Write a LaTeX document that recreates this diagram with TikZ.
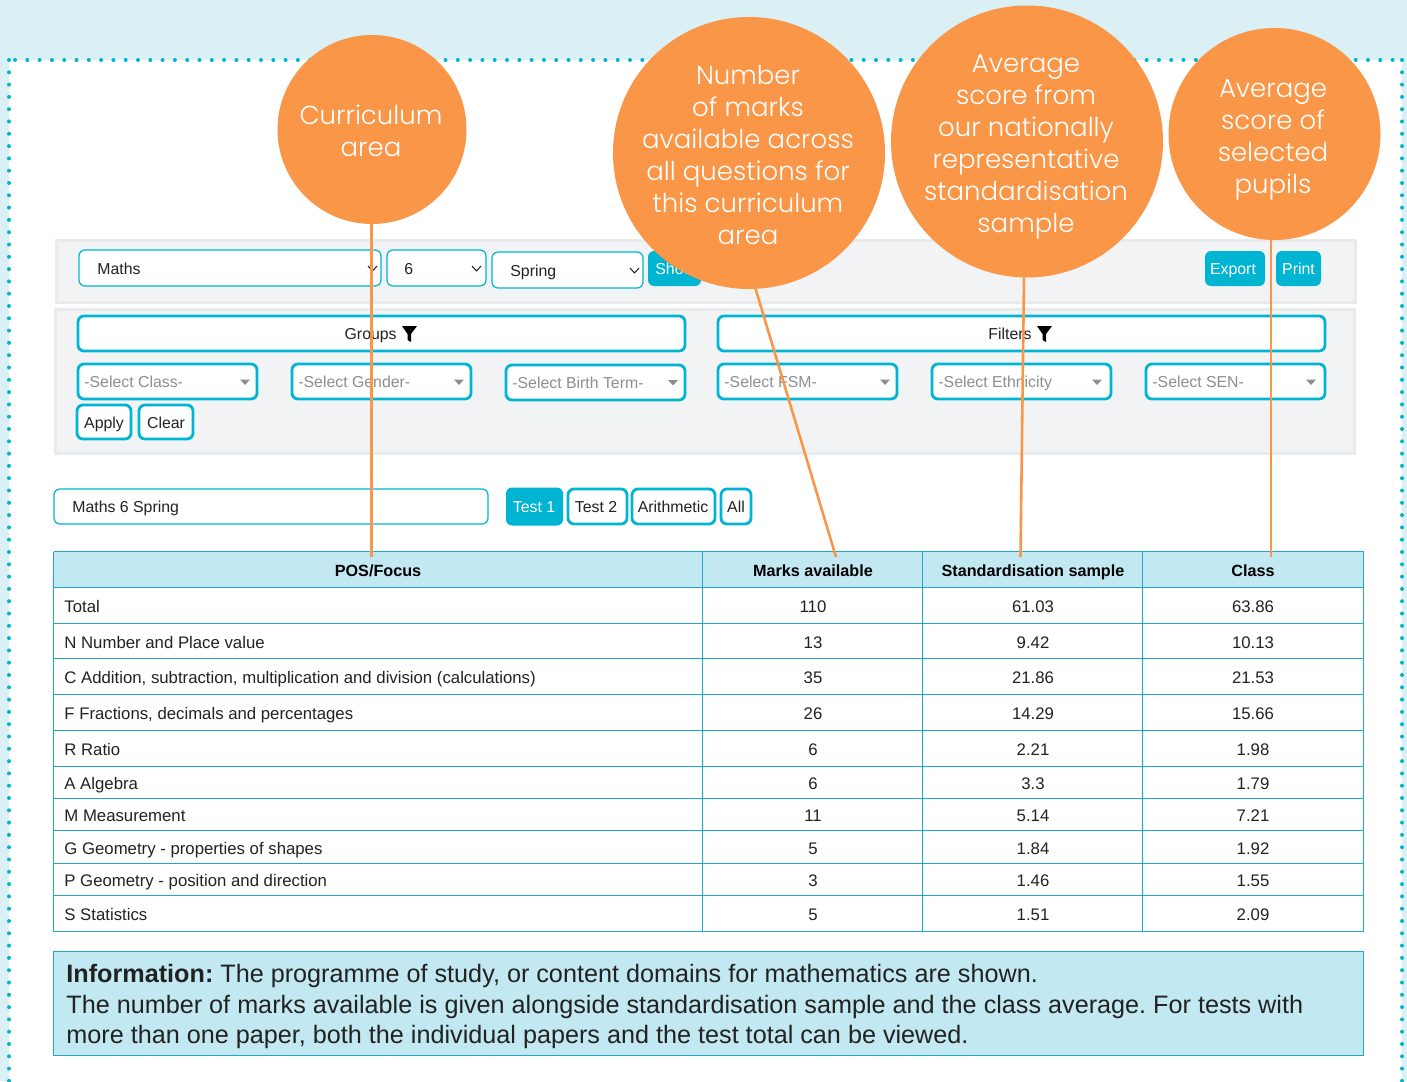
\documentclass[tikz,border=0pt]{standalone}
\usepackage{fontspec}
\setmainfont{Liberation Sans}
\newfontfamily\circfont{Poppins Light}
\frenchspacing
\definecolor{bandblue}{HTML}{DAF0F5}
\definecolor{teal}{HTML}{00B5D1}
\definecolor{orng}{HTML}{F99648}
\definecolor{panelfill}{HTML}{F1F3F5}
\definecolor{panelline}{HTML}{E8EAEC}
\definecolor{headblue}{HTML}{C2E8F2}
\definecolor{rulecol}{HTML}{1BA9C6}
\definecolor{inktext}{HTML}{222222}
\definecolor{greytext}{HTML}{8E8E8E}
\tikzset{
 x=0.5pt,y=-0.5pt,
 panel/.style={draw=panelline,fill=panelfill,line width=1.5pt},
 thinbox/.style={draw=teal,fill=white,line width=0.6pt,rounded corners=3pt},
 thickbox/.style={draw=teal,fill=white,line width=1.4pt,rounded corners=3pt},
 solidbtn/.style={fill=teal,rounded corners=3pt},
 lab/.style={font=\fontsize{7.92}{9.7}\selectfont,text=inktext,inner sep=0pt,anchor=mid},
 greylab/.style={font=\fontsize{7.92}{9.7}\selectfont,text=greytext,inner sep=0pt,anchor=mid west},
 btnlab/.style={font=\fontsize{7.92}{9.7}\selectfont,text=white,inner sep=0pt,anchor=mid},
 cell/.style={font=\fontsize{8.38}{9.8}\selectfont,text=inktext,inner sep=0pt},
 headcell/.style={font=\fontsize{8.1}{9.8}\selectfont\bfseries,text=black,inner sep=0pt,anchor=mid},
 bubble/.style={circle,fill=orng,inner sep=0pt},
 bubbletext/.style={text=white,inner sep=0pt,align=center,font=\circfont\fontsize{13}{16}\selectfont},
 leader/.style={draw=orng,line width=1.3pt},
 chev/.style={draw=inktext,line width=0.5pt},
 tri/.style={fill=greytext},
 funnel/.style={fill=black},
 dotrow/.style={draw=teal,line width=2pt,line cap=round,dash pattern=on 0pt off 6.15pt},
 tline/.style={draw=rulecol,line width=0.45pt},
}
\begin{document}
\begin{tikzpicture}
\useasboundingbox (0,0) rectangle (1407,1081);
\fill[bandblue] (0,0) rectangle (1407,1081);
\fill[white] (9,60) rectangle (1402,1081);
\draw[dotrow] (15,60) -- (1402,60);
\draw[dotrow] (9,60) -- (9,1081);
\draw[dotrow] (1402,60) -- (1402,1081);

% panels
\draw[panel] (56.5,240) rectangle (1355.5,302);
\draw[panel] (55.5,309) rectangle (1354.5,453);

% top selects
\draw[thinbox] (79,250) rectangle (381,286);
\draw[thinbox] (387,250) rectangle (486,286);
\draw[thinbox] (492,252) rectangle (643,288);
\node[lab,anchor=mid west] (tMaths) at (97,269) {Maths};
\node[lab,anchor=mid west] (tSix) at (404,269) {6};
\node[lab,anchor=mid west] (tSpring) at (510,271) {Spring};
\draw[chev] (368,266) -- (372.5,271) -- (377,266);
\draw[chev] (472,266) -- (476.5,271) -- (481,266);
\draw[chev] (630,268) -- (634.5,273) -- (639,268);
\fill[solidbtn] (648,251) rectangle (701,286);
\node[btnlab,anchor=mid west] (tShow) at (655,269) {Show};
\fill[solidbtn] (1205,251) rectangle (1265,286);
\node[btnlab] (tExport) at (1233,269) {Export};
\fill[solidbtn] (1276,251) rectangle (1321,286);
\node[btnlab] (tPrint) at (1298.5,269) {Print};

% groups / filters
\draw[thickbox] (78,316) rectangle (685,351);
\node[lab,anchor=mid east] (tGroups) at (397,334) {Groups};
\fill[funnel] (402,326) -- (417,326) -- (411,334) -- (411,342) -- (407.5,340) -- (407.5,334) -- cycle;
\draw[thickbox] (718,316) rectangle (1325,351);
\node[lab,anchor=mid east] (tFilters) at (1032,334) {Filters};
\fill[funnel] (1037,326) -- (1052,326) -- (1046,334) -- (1046,342) -- (1042.5,340) -- (1042.5,334) -- cycle;

\draw[thickbox] (78,364) rectangle (257,399);
\node[greylab] (gClass) at (84,382) {-Select Class-};
\fill[tri] (240,379.5) -- (250,379.5) -- (245,385) -- cycle;
\draw[thickbox] (292,364) rectangle (471,399);
\node[greylab] (gGender) at (298,382) {-Select Gender-};
\fill[tri] (454,379.5) -- (464,379.5) -- (459,385) -- cycle;
\draw[thickbox] (506,365) rectangle (685,400);
\node[greylab] (gBirth) at (512,383) {-Select Birth Term-};
\fill[tri] (668,380) -- (678,380) -- (673,385.5) -- cycle;
\draw[thickbox] (718,364) rectangle (897,399);
\node[greylab] (gFSM) at (724,382) {-Select FSM-};
\fill[tri] (880,379.5) -- (890,379.5) -- (885,385) -- cycle;
\draw[thickbox] (932,364) rectangle (1111,399);
\node[greylab] (gEth) at (938,382) {-Select Ethnicity};
\fill[tri] (1092,379.5) -- (1102,379.5) -- (1097,385) -- cycle;
\draw[thickbox] (1146,364) rectangle (1325,399);
\node[greylab] (gSEN) at (1152,382) {-Select SEN-};
\fill[tri] (1306,379.5) -- (1316,379.5) -- (1311,385) -- cycle;

\draw[thickbox] (77,405) rectangle (131,439);
\node[lab] (bApply) at (104,423) {Apply};
\draw[thickbox] (139,405) rectangle (193,439);
\node[lab] (bClear) at (166,423) {Clear};

% test row
\draw[thinbox] (54,489) rectangle (488,524);
\node[lab,anchor=mid west] (tName) at (72,507) {Maths 6 Spring};
\fill[solidbtn] (506,487.5) rectangle (563,525.5);
\node[btnlab] (tTestA) at (534,507) {Test 1};
\draw[thickbox] (568,489) rectangle (627,524);
\node[lab] (tTestB) at (596,507) {Test 2};
\draw[thickbox] (632,489) rectangle (715,524);
\node[lab] (tArith) at (673,507) {Arithmetic};
\draw[thickbox] (721,489) rectangle (751,524);
\node[lab] (tAll) at (736,507) {All};

% table
\fill[headblue] (53.5,551.5) rectangle (1363.5,587.5);
\foreach \ly in {551.5,587.5,623.5,658.5,694.5,730.5,766.5,798.5,830.5,863.5,895.5,931.5}
  \draw[tline] (53.5,\ly) -- (1363.5,\ly);
\foreach \lx in {53.5,702.5,922.5,1142.5,1363.5}
  \draw[tline] (\lx,551.5) -- (\lx,931.5);
\node[headcell] (hPos) at (378,571.5) {POS/Focus};
\node[headcell] (hMarks) at (813,571.5) {Marks available};
\node[headcell] (hStd) at (1033,571.5) {Standardisation sample};
\node[headcell] (hClass) at (1253,571.5) {Class};
\foreach \i/\ry/\ta/\tb/\tc/\td in {
 1/607.5/{Total}/110/61.03/63.86,
 2/643.5/{N Number and Place value}/13/9.42/10.13,
 3/678.5/{C Addition, subtraction, multiplication and division (calculations)}/35/21.86/21.53,
 4/714.5/{F Fractions, decimals and percentages}/26/14.29/15.66,
 5/750.5/{R Ratio}/6/2.21/1.98,
 6/784.5/{A Algebra}/6/3.3/1.79,
 7/816.5/{M Measurement}/11/5.14/7.21,
 8/849.5/{G Geometry - properties of shapes}/5/1.84/1.92,
 9/881.5/{P Geometry - position and direction}/3/1.46/1.55,
 10/915.5/{S Statistics}/5/1.51/2.09}{
  \node[cell,anchor=mid west] (ra\i) at (64,\ry) {\ta};
  \node[cell,anchor=mid] (rb\i) at (813,\ry) {\tb};
  \node[cell,anchor=mid] (rc\i) at (1033,\ry) {\tc};
  \node[cell,anchor=mid] (rd\i) at (1253,\ry) {\td};
}

% information
\draw[draw=rulecol,fill=headblue,line width=0.45pt] (53.5,951.5) rectangle (1363.5,1055);
\node[anchor=north west,inner sep=0pt,align=left,text=inktext,font=\fontsize{12.6}{15.2}\selectfont] (info) at (66,964)
 {\textbf{Information:} The programme of study, or content domains for mathematics are shown.\\
  The number of marks available is given alongside standardisation sample and the class average. For tests with\\
  more than one paper, both the individual papers and the test total can be viewed.};

% bubbles
\node[bubble,minimum size=94.5pt] (cA) at (372,129.5) {};
\node[bubble,minimum size=136pt] (cB) at (749,153) {};
\node[bubble,minimum size=136pt] (cC) at (1027,141.5) {};
\node[bubble,minimum size=106pt] (cD) at (1274.5,134) {};
\node[bubbletext] (lA) at (371,131) {Curriculum\\area};
\node[bubbletext] (lB) at (748,155) {Number\\of marks\\available across\\all questions for\\this curriculum\\area};
\node[bubbletext] (lC) at (1026,146.5) {Average\\score from\\our nationally\\representative\\standardisation\\sample};
\node[bubbletext] (lD) at (1273,140) {Average\\score of\\selected\\pupils};

% leaders
\coordinate (eA) at (371.5,557);
\coordinate (eB) at (836,557);
\coordinate (eC) at (1020.5,557);
\coordinate (eD) at (1271,557);
\draw[leader] (cA.south -| eA) -- (eA);
\path (cB.center) ++(6,134) coordinate (sB);
\draw[leader] (sB) -- (eB);
\path (cC.center) ++(-3,136) coordinate (sC);
\draw[leader] (sC) -- (eC);
\path (cD.center) ++(-3.5,105) coordinate (sD);
\draw[leader] (sD) -- (eD);
\end{tikzpicture}
\end{document}
